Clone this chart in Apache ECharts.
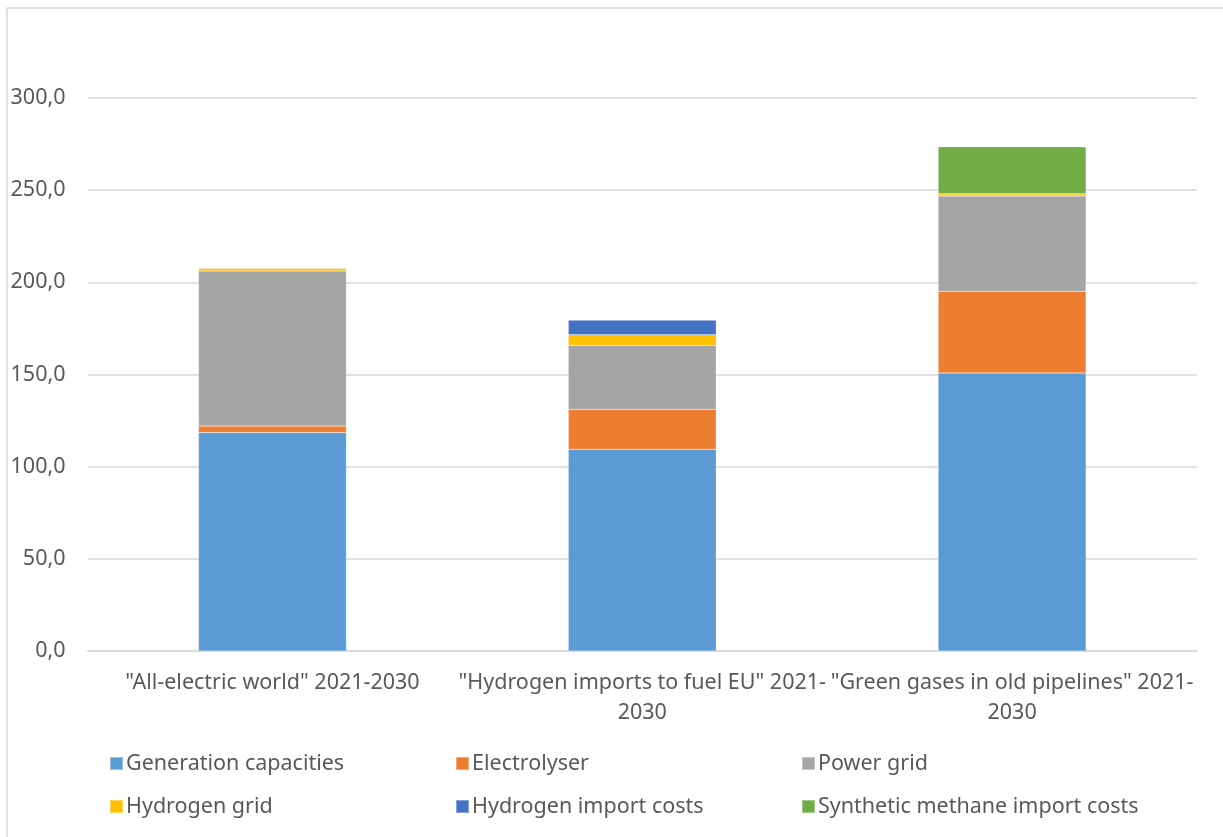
<!DOCTYPE html>
<html><head><meta charset="utf-8">
<script src="https://cdn.jsdelivr.net/npm/echarts@6/dist/echarts.min.js"></script>
<style>html,body{margin:0;padding:0;background:#fff}#c{width:1223px;height:837px}</style>
</head><body><div id="c"></div>
<script>
const categories = ['"All-electric world" 2021-2030', '"Hydrogen imports to fuel EU" 2021-2030', '"Green gases in old pipelines" 2021-2030'];
const generation = [118.5, 109.4, 150.8];
const electrolyser = [3.5, 21.7, 44.3];
const powerGrid = [84.2, 34.7, 51.8];
const hydrogenGrid = [1.5, 5.7, 1.1];
const hydrogenImport = [0, 8.0, 0];
const methaneImport = [0, 0, 25.5];
const yTicks = [0, 50, 100, 150, 200, 250, 300];

const seriesDefs = [
  ['Generation capacities', generation, '#5B9BD5'],
  ['Electrolyser', electrolyser, '#ED7D31'],
  ['Power grid', powerGrid, '#A5A5A5'],
  ['Hydrogen grid', hydrogenGrid, '#FFC000'],
  ['Hydrogen import costs', hydrogenImport, '#4472C4'],
  ['Synthetic methane import costs', methaneImport, '#70AD47']
];
const txt = '#595959';
const font = 'Noto Sans';
const fs = 21.5;
const chart = echarts.init(document.getElementById('c'));
chart.setOption({
  animation: false,
  graphic: [{type:'rect', shape:{x:7,y:8,width:1300,height:900}, style:{fill:'none', stroke:'#d9d9d9', lineWidth:1.5}}],
  grid: {left: 87.5, right: 26, top: 98, bottom: 186},
  legend: {
    left: 104, top: 737, width: 1100, itemGap: 0, itemWidth: 13, itemHeight: 13,
    icon: 'rect',
    textStyle: {color: txt, fontFamily: font, fontSize: fs, width: 329, lineHeight: 43, padding:[0,0,0,-2]},
    data: seriesDefs.map(s => s[0])
  },
  xAxis: {
    type: 'category', data: categories,
    axisLine: {lineStyle: {color: '#d9d9d9', width: 1.5}},
    axisTick: {show: false},
    axisLabel: {color: txt, fontFamily: font, fontSize: fs, lineHeight: 30, margin: 17, interval: 0,
      formatter: v => v.length > 32 ? v.replace(' 2021-2030', ' 2021-\n2030') : v}
  },
  yAxis: {
    type: 'value', min: yTicks[0], max: yTicks[yTicks.length-1], interval: 50,
    axisLine: {show: false}, axisTick: {show: false},
    splitLine: {lineStyle: {color: '#d9d9d9', width: 1.5}},
    axisLabel: {color: txt, fontFamily: font, fontSize: fs, margin: 22, formatter: v => v.toFixed(1).replace('.', ',')}
  },
  series: seriesDefs.map(s => ({
    name: s[0], type: 'bar', stack: 'total', data: s[1], barWidth: '40%',
    itemStyle: {color: s[2], borderColor: 'rgba(255,255,255,0.35)', borderWidth: 0.5}
  }))
});
</script></body></html>
